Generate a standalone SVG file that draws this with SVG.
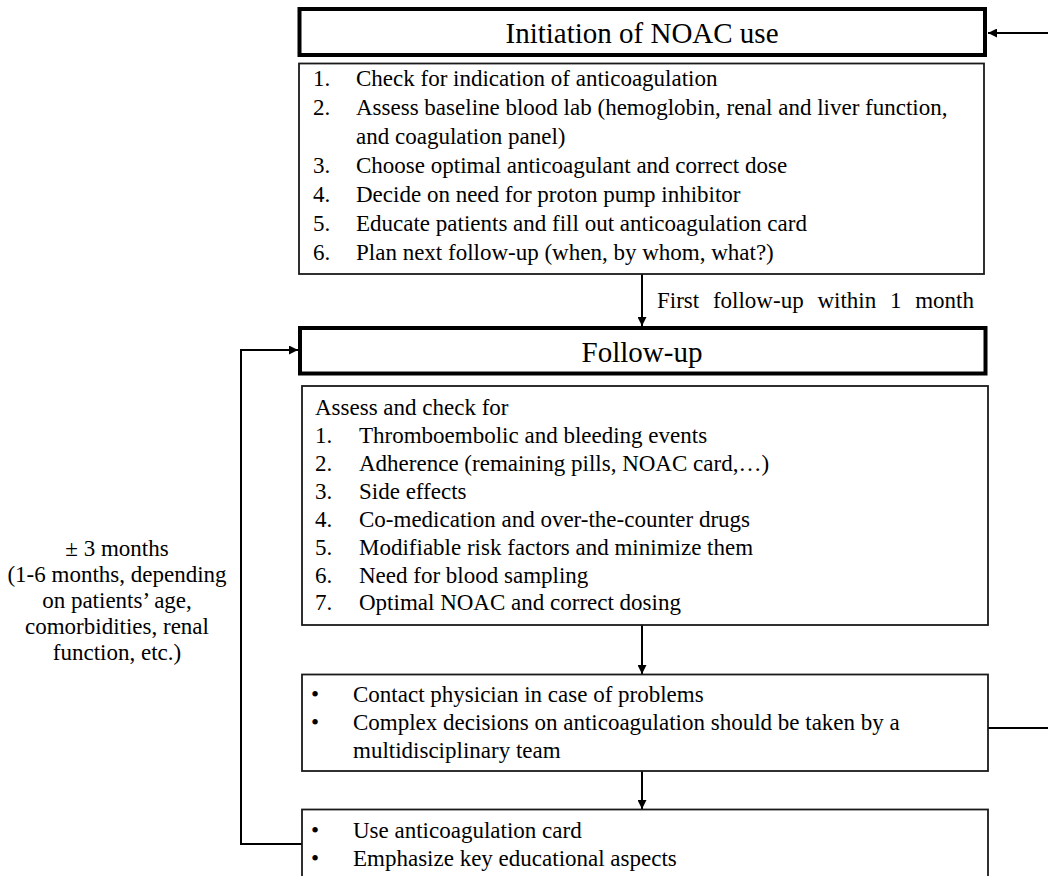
<svg xmlns="http://www.w3.org/2000/svg" width="1048" height="876" viewBox="0 0 1048 876">
<defs>
<marker id="arr" markerUnits="userSpaceOnUse" markerWidth="9" markerHeight="9" refX="9" refY="4.5" orient="auto">
<path d="M0,0 L9,4.5 L0,9 z" fill="#000"/>
</marker>
<style>
text{font-family:"Liberation Serif","Times New Roman",serif;fill:#000;font-size:23px}
.title{font-size:29px;text-anchor:middle}
.thick{fill:#fff;stroke:#000;stroke-width:4}
.thin{fill:#fff;stroke:#1a1a1a;stroke-width:1.8}
.conn{fill:none;stroke:#000;stroke-width:2}
.mid{text-anchor:middle}
</style>
</defs>
<rect width="1048" height="876" fill="#fff"/>

<g id="connectors">
<line class="conn" x1="1048" y1="33" x2="988" y2="33" marker-end="url(#arr)"/>
<line class="conn" x1="642" y1="274" x2="642" y2="326" marker-end="url(#arr)"/>
<line class="conn" x1="642" y1="625" x2="642" y2="674" marker-end="url(#arr)"/>
<line class="conn" x1="642" y1="771" x2="642" y2="809" marker-end="url(#arr)"/>
<polyline class="conn" points="302,844 241,844 241,350 298,350" marker-end="url(#arr)"/>
<line class="conn" x1="988" y1="728" x2="1048" y2="728"/>
<text x="657" y="308" font-size="24" word-spacing="8">First follow-up within 1 month</text>
<g id="loop-label" class="mid">
<text x="117" y="556">± 3 months</text>
<text x="117" y="582">(1-6 months, depending</text>
<text x="117" y="608">on patients’ age,</text>
<text x="117" y="634">comorbidities, renal</text>
<text x="117" y="660">function, etc.)</text>
</g>
</g>

<g id="initiation">
<rect class="thick" x="299.5" y="9" width="685.5" height="46"/>
<text class="title" x="642" y="43">Initiation of NOAC use</text>
</g>

<g id="initiation-list">
<rect class="thin" x="299" y="63.5" width="685" height="210.5"/>
<text x="313" y="86">1.</text><text x="356" y="86">Check for indication of anticoagulation</text>
<text x="313" y="115">2.</text><text x="356" y="115">Assess baseline blood lab (hemoglobin, renal and liver function,</text>
<text x="356" y="144">and coagulation panel)</text>
<text x="313" y="173">3.</text><text x="356" y="173">Choose optimal anticoagulant and correct dose</text>
<text x="313" y="202">4.</text><text x="356" y="202">Decide on need for proton pump inhibitor</text>
<text x="313" y="231">5.</text><text x="356" y="231">Educate patients and fill out anticoagulation card</text>
<text x="313" y="260">6.</text><text x="356" y="260">Plan next follow-up (when, by whom, what?)</text>
</g>

<g id="followup">
<rect class="thick" x="300" y="328" width="685.5" height="45.5"/>
<text class="title" x="642" y="362">Follow-up</text>
</g>

<g id="followup-list">
<rect class="thin" x="302" y="386" width="686" height="239"/>
<text x="315" y="415">Assess and check for</text>
<text x="315" y="443">1.</text><text x="359" y="443">Thromboembolic and bleeding events</text>
<text x="315" y="471">2.</text><text x="359" y="471">Adherence (remaining pills, NOAC card,…)</text>
<text x="315" y="499">3.</text><text x="359" y="499">Side effects</text>
<text x="315" y="527">4.</text><text x="359" y="527">Co-medication and over-the-counter drugs</text>
<text x="315" y="555">5.</text><text x="359" y="555">Modifiable risk factors and minimize them</text>
<text x="315" y="583">6.</text><text x="359" y="583">Need for blood sampling</text>
<text x="315" y="610">7.</text><text x="359" y="610">Optimal NOAC and correct dosing</text>
</g>

<g id="contact">
<rect class="thin" x="302" y="674.5" width="686" height="96.5"/>
<text x="311" y="702">•</text><text x="353" y="702">Contact physician in case of problems</text>
<text x="311" y="730">•</text><text x="353" y="730">Complex decisions on anticoagulation should be taken by a</text>
<text x="353" y="758">multidisciplinary team</text>
</g>

<g id="education">
<rect class="thin" x="302" y="809.5" width="686" height="80"/>
<text x="311" y="838">•</text><text x="353" y="838">Use anticoagulation card</text>
<text x="311" y="866">•</text><text x="353" y="866">Emphasize key educational aspects</text>
</g>
</svg>
